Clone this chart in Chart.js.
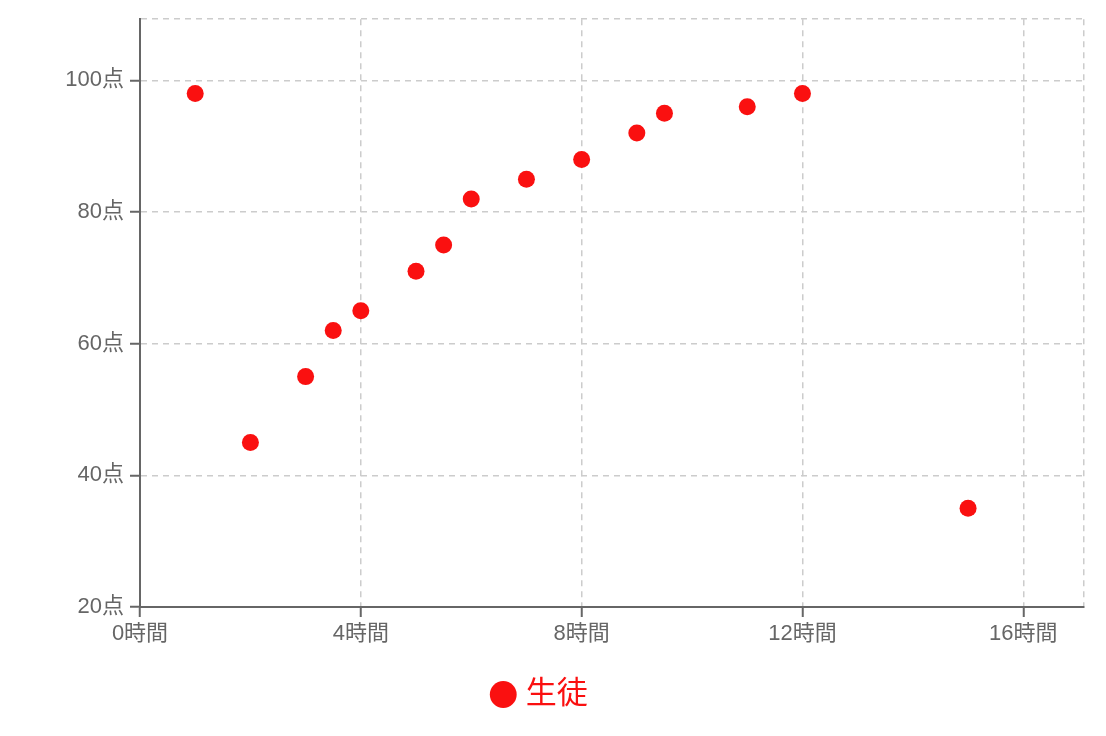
<!DOCTYPE html>
<html>
<head>
<meta charset="utf-8">
<script src="https://cdn.jsdelivr.net/npm/chart.js@4/dist/chart.umd.min.js"></script>
<style>
  html, body { margin: 0; padding: 0; background: #fff; }
  #wrap { width: 1106px; height: 736px; }
</style>
</head>
<body>
<div id="wrap"><canvas id="chart"></canvas></div>
<script>
// 勉強時間（時間）と点数
const hours  = [1, 2, 3, 3.5, 4, 5, 5.5, 6, 7, 8, 9, 9.5, 11, 12, 15];
const scores = [98, 45, 55, 62, 65, 71, 75, 82, 85, 88, 92, 95, 96, 98, 35];
const seriesLabel = '生徒';

// 目盛り
const xTicks = [0, 4, 8, 12, 16];
const yTicks = [20, 40, 60, 80, 100];
const xMax = 17.1;
const yMax = 109.3;
const xUnit = '時間';
const yUnit = '点';

const FONT = '"Liberation Sans", "Noto Sans CJK JP", sans-serif';
const RED = 'rgb(250, 16, 16)';

// 目盛りの値以外（最大値）はラベル・目盛り線を出さない
const labelled = (list, v) => list.includes(v);

const ctx = document.getElementById('chart').getContext('2d');
new Chart(ctx, {
    type: 'scatter',
    data: {
        datasets: [{
            label: seriesLabel,
            data: hours.map((h, i) => ({ x: h, y: scores[i] })),
            backgroundColor: RED,
            borderColor: RED,
            pointRadius: 8.5,
            pointHoverRadius: 8.5,
            borderWidth: 0,
        }],
    },
    options: {
        responsive: true,
        maintainAspectRatio: false,
        animation: false,
        layout: { padding: { top: 19, right: 22, bottom: 16, left: 0 } },
        scales: {
            x: {
                type: 'linear',
                min: 0,
                max: xMax,
                afterBuildTicks: (s) => { s.ticks = [...xTicks, xMax].map(v => ({ value: v })); },
                grid: {
                    color: '#ccc',
                    lineWidth: 1.5,
                    tickLength: 10,
                    tickColor: (c) => labelled(xTicks, c.tick.value) ? '#666' : 'rgba(0,0,0,0)',
                    tickWidth: 2,
                },
                border: { color: '#666', width: 2, dash: [6, 5] },
                ticks: {
                    autoSkip: false,
                    color: '#666',
                    font: { family: FONT, size: 22 },
                    padding: 4,
                    maxRotation: 0,
                    callback: (v) => labelled(xTicks, v) ? v + xUnit : '',
                },
                afterFit: (s) => { s.height = 62; },
            },
            y: {
                min: yTicks[0],
                max: yMax,
                afterBuildTicks: (s) => { s.ticks = [...yTicks, yMax].map(v => ({ value: v })); },
                grid: {
                    color: '#ccc',
                    lineWidth: 1.5,
                    tickLength: 10,
                    tickColor: (c) => labelled(yTicks, c.tick.value) ? '#666' : 'rgba(0,0,0,0)',
                    tickWidth: 2,
                },
                border: { color: '#666', width: 2, dash: [6, 5] },
                ticks: {
                    autoSkip: false,
                    color: '#666',
                    font: { family: FONT, size: 22 },
                    padding: 6,
                    callback: (v) => labelled(yTicks, v) ? v + yUnit : '',
                },
                afterFit: (s) => { s.width = 140; },
            },
        },
        plugins: {
            legend: {
                position: 'bottom',
                labels: {
                    usePointStyle: true,
                    pointStyle: 'circle',
                    boxWidth: 14,
                    boxHeight: 19,
                    color: RED,
                    font: { family: FONT, size: 31 },
                    padding: 10,
                },
            },
            tooltip: { enabled: false },
        },
    },
});
</script>
</body>
</html>
